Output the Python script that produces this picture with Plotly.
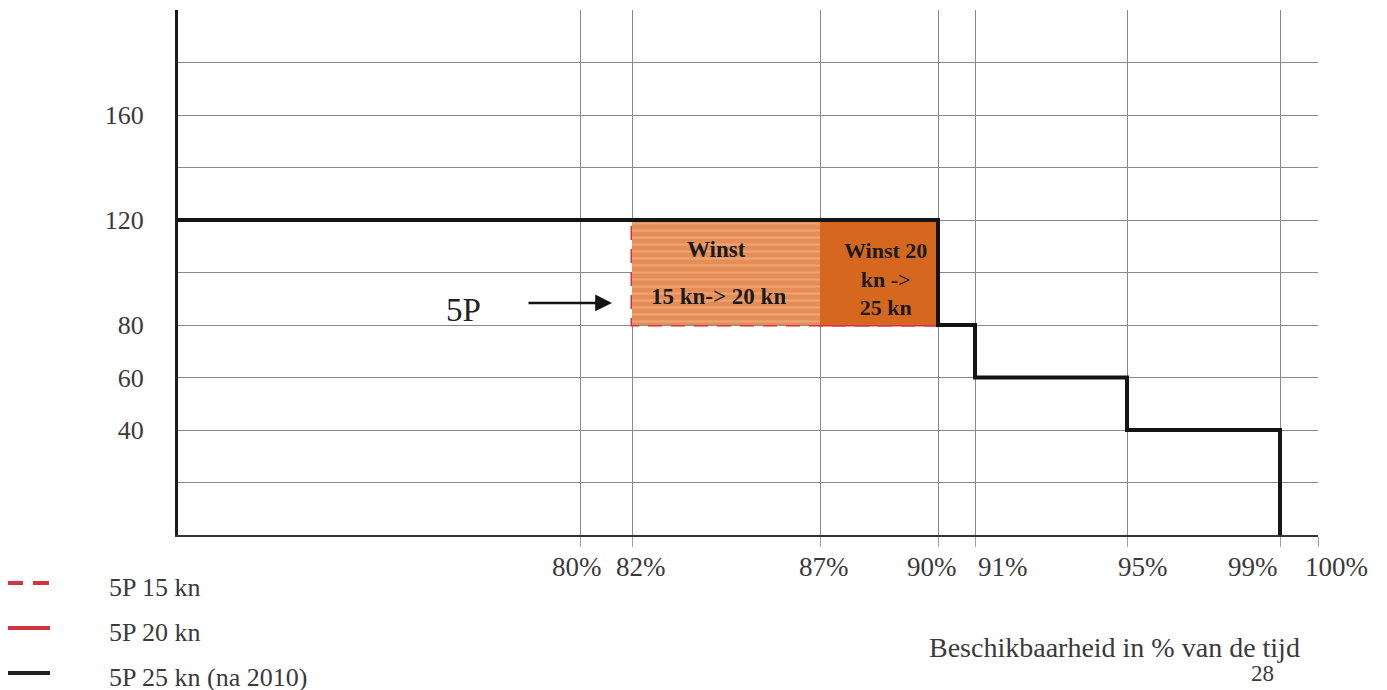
import numpy as np
import plotly.graph_objects as go

# ---- data ----
tick_pct = [80, 82, 87, 90, 91, 95, 99, 100]
tick_labels = ["80%", "82%", "87%", "90%", "91%", "95%", "99%", "100%"]
# position of each tick along the (non-linear) printed axis, in axis units
tick_pos = [402, 454, 642, 760, 797, 949, 1102, 1140]
# small sideways nudges the printed labels have, so neighbours do not collide
tick_label_shift = [-3, 9, 4, -6, 28, 16, -27, 18]

s15_x = [0, 82, 91, 95, 99]
s15_y = [120, 80, 60, 40, 0]
s20_x = [0, 87, 91, 95, 99]
s20_y = [120, 80, 60, 40, 0]
s25_x = [0, 90, 91, 95, 99]
s25_y = [120, 80, 60, 40, 0]

series_names = ["5P 15 kn", "5P 20 kn", "5P 25 kn (na 2010)"]

y_tickvals = [0, 20, 40, 60, 80, 100, 120, 140, 160, 180, 200]
y_ticktext = ["", "", "40", "60", "80", "", "120", "", "160", "", ""]


def to_pos(p):
    return list(np.interp(p, [0] + tick_pct, [0] + tick_pos))


SERIF = "Liberation Serif"
LIGHT = "#e58d55"
STRIPE = "#f3bd96"
DARK = "#d6671f"
RED = "#d23442"
BLACK = "#141414"
TXT = "#3a3a3a"

W, H = 1387, 690
L, R, T, B = 170, 77, 2, 163
PW, PH = W - L - R, H - T - B
OFF = 8  # page body margin


def fx(px):
    return (px - OFF - L) / PW


def fy(py):
    return (H - B - (py - OFF)) / PH


fig = go.Figure()

# red curves first (mostly hidden under the fills / black curve)
fig.add_trace(go.Scatter(x=to_pos(s15_x), y=s15_y, mode="lines", name=series_names[0], showlegend=False,
                         line=dict(color=RED, width=3, dash="14px,9px", shape="hv")))
fig.add_trace(go.Scatter(x=to_pos(s20_x), y=s20_y, mode="lines", name=series_names[1], showlegend=False,
                         line=dict(color=RED, width=3, shape="hv")))

# gain areas (between step curves)
fig.add_trace(go.Scatter(x=to_pos(s15_x), y=s15_y, mode="lines", line=dict(width=0, shape="hv"),
                         showlegend=False, hoverinfo="skip"))
fig.add_trace(go.Scatter(x=to_pos(s20_x), y=s20_y, mode="lines", line=dict(width=0, shape="hv"),
                         fill="tonexty", fillcolor=LIGHT,
                         fillpattern=dict(shape="-", bgcolor=LIGHT, fgcolor=STRIPE, size=7, solidity=0.3),
                         showlegend=False, hoverinfo="skip"))
fig.add_trace(go.Scatter(x=to_pos(s20_x), y=s20_y, mode="lines", line=dict(width=0, shape="hv"),
                         showlegend=False, hoverinfo="skip"))
fig.add_trace(go.Scatter(x=to_pos(s25_x), y=s25_y, mode="lines", line=dict(width=0, shape="hv"),
                         fill="tonexty", fillcolor=DARK, showlegend=False, hoverinfo="skip"))

fig.add_trace(go.Scatter(x=to_pos(s25_x), y=s25_y, mode="lines", name=series_names[2], showlegend=False,
                         line=dict(color=BLACK, width=4, shape="hv")))

ann_font = dict(family=SERIF, size=23, color="#1a1a1a")
annotations = [
    dict(x=538, y=108.6, text="<b>Winst</b>", showarrow=False, font=ann_font),
    dict(x=540, y=91.0, text="<b>15 kn-> 20 kn</b>", showarrow=False, font=ann_font),
    dict(x=707, y=97.5, text="<b>Winst 20<br>kn -><br>25 kn</b>", showarrow=False,
         font=dict(family=SERIF, size=22, color="#1a1a1a")),
    dict(x=285, y=85.7, text="5P", showarrow=False, font=dict(family=SERIF, size=33, color="#222222")),
    dict(x=434, y=88.4, ax=349, ay=88.4, axref="x", ayref="y", text="", showarrow=True,
         arrowhead=2, arrowsize=1.4, arrowwidth=2.4, arrowcolor=BLACK),
    dict(xref="paper", yref="paper", x=fx(1114), y=fy(647), xanchor="center", yanchor="middle",
         text="Beschikbaarheid in % van de tijd", showarrow=False,
         font=dict(family=SERIF, size=28, color=TXT)),
    dict(xref="paper", yref="paper", x=fx(1262), y=fy(688), xanchor="center", yanchor="bottom",
         text="28", showarrow=False, font=dict(family=SERIF, size=23, color=TXT)),
]

# x tick labels (printed slightly nudged sideways)
for pos, lab, sh in zip(tick_pos, tick_labels, tick_label_shift):
    annotations.append(dict(x=pos, xref="x", yref="paper", y=fy(567), xanchor="center", yanchor="middle",
                            xshift=sh, text=lab, showarrow=False,
                            font=dict(family=SERIF, size=27, color=TXT)))

# manual legend (below the plot, far left)
shapes = []
leg_y = [583, 628, 673]
leg_style = [dict(color=RED, width=4, dash="16px,10px"), dict(color=RED, width=4),
             dict(color="#222222", width=4)]
for name, yy, st in zip(series_names, leg_y, leg_style):
    shapes.append(dict(type="line", xref="paper", yref="paper", x0=fx(7), x1=fx(50),
                       y0=fy(yy), y1=fy(yy), line=st))
    annotations.append(dict(xref="paper", yref="paper", x=fx(107), y=fy(yy + 4), xanchor="left",
                            yanchor="middle", text=name, showarrow=False,
                            font=dict(family=SERIF, size=26, color=TXT)))

fig.update_layout(
    width=W, height=H,
    margin=dict(l=L, r=R, t=T, b=B, autoexpand=False),
    paper_bgcolor="white", plot_bgcolor="white",
    font=dict(family=SERIF, size=24, color=TXT),
    showlegend=False,
    annotations=annotations,
    shapes=shapes,
    xaxis=dict(range=[0, 1140], tickvals=tick_pos, ticktext=tick_labels, showticklabels=False,
               showgrid=True, gridcolor="#8a8a8a", gridwidth=1, ticks="outside", ticklen=10,
               tickcolor="#a0a0a0", showline=True, linecolor="#333333", linewidth=2, zeroline=False,
               automargin=False, fixedrange=True),
    yaxis=dict(range=[0, 200], tickvals=y_tickvals, ticktext=y_ticktext, showgrid=True,
               gridcolor="#8a8a8a", gridwidth=1, ticks="", showline=True, linecolor="#1a1a1a",
               linewidth=3, zeroline=False, ticklabelstandoff=26, automargin=False,
               tickfont=dict(family=SERIF, size=26, color=TXT), fixedrange=True),
)

fig.write_html("out.html")
